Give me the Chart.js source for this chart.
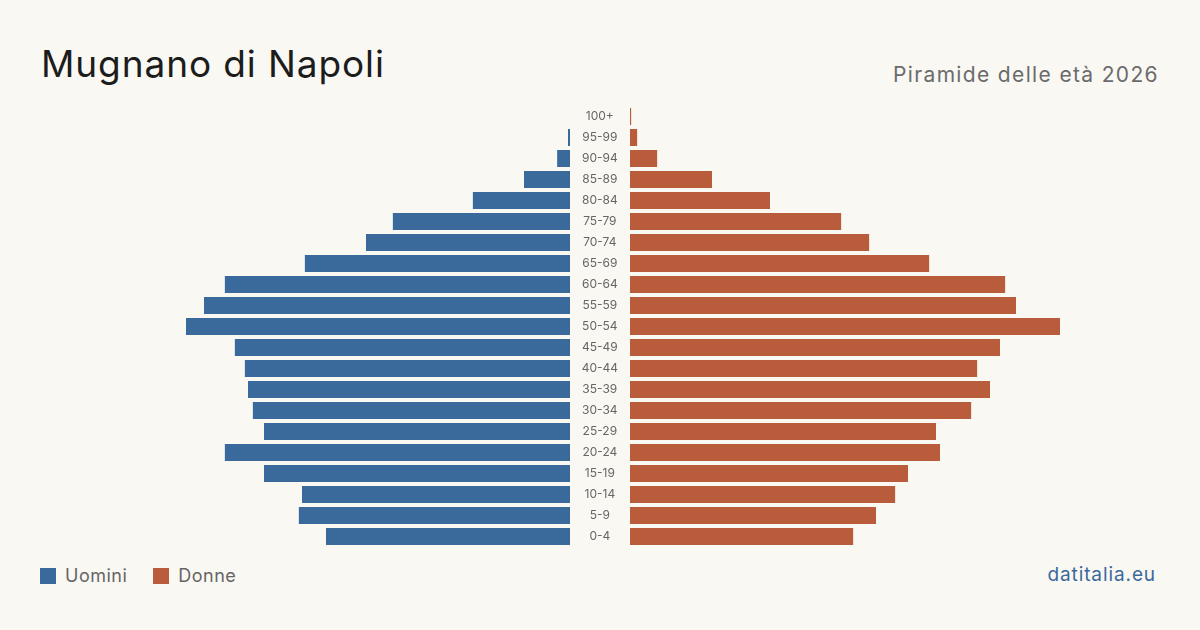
<!DOCTYPE html>
<html lang="it">
<head>
<meta charset="utf-8">
<title>Mugnano di Napoli - Piramide delle età 2026</title>
<script src="https://cdn.jsdelivr.net/npm/chart.js@4/dist/chart.umd.min.js"></script>
<style>
    html, body {
        margin: 0;
        padding: 0;
        background: #f9f8f3;
        font-family: Inter, "Noto Sans", sans-serif;
    }
    #page {
        position: relative;
        width: 1200px;
        height: 630px;
        overflow: hidden;
    }
    h1 {
        position: absolute;
        left: 41px;
        top: 41px;
        margin: 0;
        font-size: 37px;
        font-weight: 400;
        color: #1c1c1c;
        letter-spacing: 0.9px;
    }
    .subtitle {
        position: absolute;
        right: 41px;
        top: 62px;
        font-size: 21px;
        color: #6b6b6b;
        letter-spacing: 1.35px;
    }
    .box {
        position: absolute;
    }
    .legend {
        position: absolute;
        left: 40px;
        top: 565px;
        font-size: 18px;
        color: #666;
        display: flex;
        align-items: center;
        letter-spacing: 0.5px;
    }
    .legend span.sw {
        display: inline-block;
        width: 16px;
        height: 16px;
        margin-right: 9px;
    }
    .legend .item {
        display: flex;
        align-items: center;
        margin-right: 26px;
    }
    .source {
        position: absolute;
        right: 44px;
        top: 563px;
        font-size: 19px;
        color: #3a6a9b;
        letter-spacing: 0.9px;
    }
</style>
</head>
<body>
<div id="page">
    <h1>Mugnano di Napoli</h1>
    <div class="subtitle">Piramide delle età 2026</div>

    <div class="box" style="left:140px; top:106px; width:430px; height:441px;">
        <canvas id="menChart" width="430" height="441"></canvas>
    </div>
    <div class="box" style="left:570px; top:106px; width:490px; height:441px;">
        <canvas id="womenChart" width="490" height="441"></canvas>
    </div>

    <div class="legend">
        <div class="item"><span class="sw" style="background:#3a6a9b"></span>Uomini</div>
        <div class="item"><span class="sw" style="background:#b95c3b"></span>Donne</div>
    </div>
    <div class="source">datitalia.eu</div>
</div>

<script>
// Age groups, youngest first (drawn bottom to top)
const ageGroups = ['0-4', '5-9', '10-14', '15-19', '20-24', '25-29', '30-34', '35-39', '40-44',
    '45-49', '50-54', '55-59', '60-64', '65-69', '70-74', '75-79', '80-84', '85-89', '90-94',
    '95-99', '100+'];

const men = [854, 949, 938, 1071, 1208, 1071, 1110, 1127, 1138,
    1173, 1344, 1281, 1208, 928, 714, 620, 340, 161, 45,
    7, 0];

const women = [781, 861, 928, 973, 1085, 1071, 1194, 1260, 1215,
    1295, 1505, 1351, 1313, 1047, 837, 739, 490, 287, 95,
    25, 4];

const menColor = '#3a6a9b';
const womenColor = '#b95c3b';

// same scale on both sides
const maxValue = Math.max(...men, ...women);

function buildChart(canvasId, values, color, leftSide) {
    const ctx = document.getElementById(canvasId).getContext('2d');
    return new Chart(ctx, {
        type: 'bar',
        data: {
            labels: ageGroups,
            datasets: [{
                data: values,
                backgroundColor: color,
                borderWidth: 0,
                categoryPercentage: 1,
                barPercentage: 0.81
            }]
        },
        options: {
            indexAxis: 'y',
            responsive: false,
            animation: false,
            layout: { padding: 0 },
            plugins: {
                legend: { display: false },
                tooltip: { enabled: false }
            },
            scales: {
                x: {
                    display: false,
                    min: 0,
                    max: maxValue,
                    reverse: leftSide
                },
                y: {
                    reverse: true,
                    display: !leftSide,
                    position: 'left',
                    grid: { display: false, drawTicks: false },
                    border: { display: false },
                    ticks: {
                        color: '#666',
                        crossAlign: 'center',
                        padding: 12,
                        font: { family: 'Inter', size: 12 }
                    },
                    afterFit: (scale) => {
                        // center column for the age labels, no extra vertical padding
                        if (!leftSide) {
                            scale.width = 60;
                            scale.paddingTop = 0;
                            scale.paddingBottom = 0;
                        }
                    }
                }
            }
        }
    });
}

buildChart('menChart', men, menColor, true);
buildChart('womenChart', women, womenColor, false);
</script>
</body>
</html>
